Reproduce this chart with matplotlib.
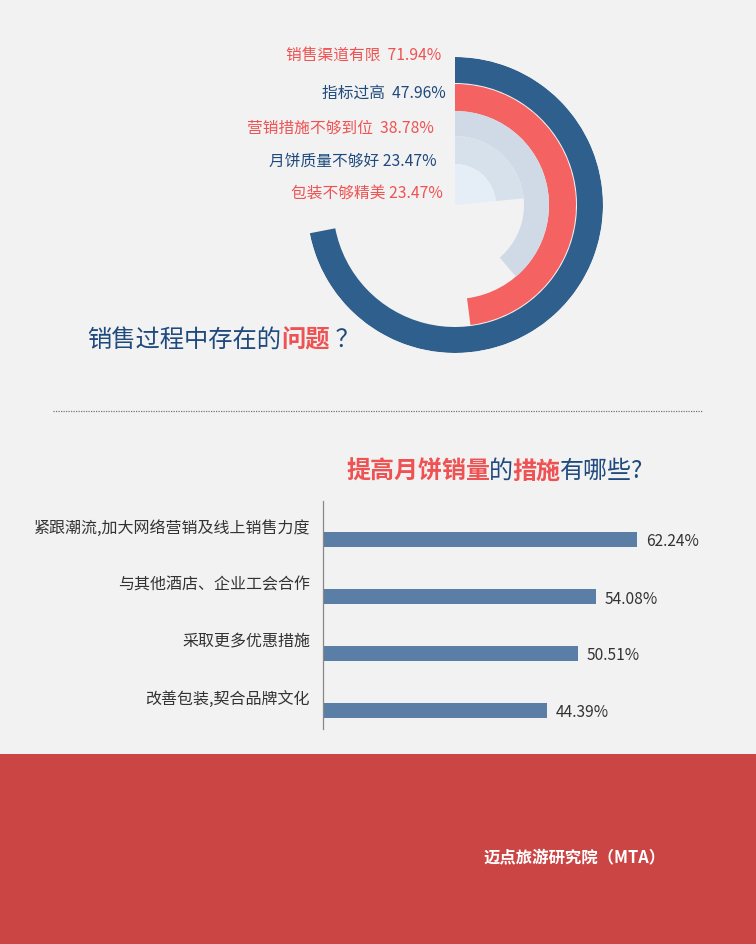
import matplotlib
matplotlib.use("Agg")
import matplotlib.pyplot as plt
import numpy as np
from matplotlib.patches import Rectangle

plt.rcParams['font.family'] = ['Noto Sans CJK SC', 'DejaVu Sans']

# ---------------- data ----------------
radial_labels = ['销售渠道有限', '指标过高', '营销措施不够到位', '月饼质量不够好', '包装不够精美']
radial_values = [71.94, 47.96, 38.78, 23.47, 23.47]
radial_label_text = ['销售渠道有限  71.94%', '指标过高  47.96%', '营销措施不够到位  38.78%',
                     '月饼质量不够好 23.47%', '包装不够精美 23.47%']

bar_labels = ['紧跟潮流,加大网络营销及线上销售力度', '与其他酒店、企业工会合作',
              '采取更多优惠措施', '改善包装,契合品牌文化']
bar_values = [62.24, 54.08, 50.51, 44.39]

# ---------------- styles ----------------
W, H = 756, 945
BG = '#f2f2f2'
DARK = '#2f5f8d'
RED = '#f46262'
TXT_BLUE = '#1f4a7e'
TXT_RED = '#ef5252'
ring_colors = [DARK, RED, '#cfdae6', '#d7e1eb', '#e5eef7']
ring_outer = [148, 121, 94, 69, 41]
ring_inner = [122, 94, 69, 41, 0]
label_colors = [TXT_RED, TXT_BLUE, TXT_RED, TXT_BLUE, TXT_RED]

fig = plt.figure(figsize=(W / 100, H / 100), dpi=100)
fig.patch.set_facecolor(BG)

# background / text layer in pixel coordinates
bg = fig.add_axes([0, 0, 1, 1])
bg.set_xlim(0, W)
bg.set_ylim(H, 0)
bg.axis('off')
bg.set_zorder(0)
bg.add_patch(Rectangle((0, 755), W, H - 755, color='#cc4545', lw=0))
bg.plot([53, 703], [412, 412], color='#777777', lw=0.9, ls=(0, (1, 1)))

# ---------------- radial chart ----------------
cx, cy, R = 455, 206, 148
pax = fig.add_axes([(cx - R) / W, (H - cy - R) / H, 2 * R / W, 2 * R / H], projection='polar')
pax.set_theta_zero_location('N')
pax.set_theta_direction(-1)
pax.set_ylim(0, R)
pax.axis('off')
pax.patch.set_alpha(0)
for v, ro, ri, c in zip(radial_values, ring_outer, ring_inner, ring_colors):
    theta = np.deg2rad(v / 100 * 360)
    pax.bar(theta / 2, ro - ri, width=theta, bottom=ri, color=c, edgecolor='none', align='center')

label_y = [55, 93, 128, 161, 194]
label_right = [441, 446, 434, 437, 443]
for txt, c, y, xr in zip(radial_label_text, label_colors, label_y, label_right):
    bg.text(xr, y, txt, color=c, fontsize=11.3, ha='right', va='center')

# title with mixed colours
t1 = bg.text(87, 340, '销售过程中存在的', color=TXT_BLUE, fontsize=17.5, ha='left', va='center')
t2 = bg.annotate('问题', xy=(1, 0), xycoords=t1, ha='left', va='bottom',
                 color=TXT_RED, fontsize=17.5, fontweight='bold')
t3 = bg.annotate(' ？', xy=(1, 0), xycoords=t2, ha='left', va='bottom',
                 color=TXT_BLUE, fontsize=17.5)

# ---------------- bar chart title ----------------
parts = [('提高月饼销量', TXT_RED, 'bold'), ('的', TXT_BLUE, 'normal'),
         ('措施', TXT_RED, 'bold'), ('有哪些?', TXT_BLUE, 'normal')]
prev = bg.text(346, 472, parts[0][0], color=parts[0][1], fontweight=parts[0][2],
               fontsize=17.3, ha='left', va='center')
for p, c, w in parts[1:]:
    prev = bg.annotate(p, xy=(1, 0), xycoords=prev, xytext=(-1, 0), textcoords='offset pixels',
                       ha='left', va='bottom', color=c, fontweight=w, fontsize=17.3)

# ---------------- bar chart ----------------
ax_left, ax_top, ax_bottom = 323, 502, 730
px_per_pct = (637 - 323) / 62.24
ax_w = 420
bax = fig.add_axes([ax_left / W, (H - ax_bottom) / H, ax_w / W, (ax_bottom - ax_top) / H])
bax.patch.set_alpha(0)
ypos = np.arange(len(bar_values))[::-1]
step = 57
bax.set_ylim(-(ax_bottom - 711) / step, (711 - ax_top) / step)
bax.set_xlim(0, ax_w / px_per_pct)
bax.barh(ypos, bar_values, height=15 / step, color='#5a7ea6')
for s in ['top', 'right', 'bottom']:
    bax.spines[s].set_visible(False)
bax.spines['left'].set_color('#888888')
bax.spines['left'].set_linewidth(0.9)
bax.set_xticks([])
bax.set_yticks([])
for y, lab, v in zip(ypos, bar_labels, bar_values):
    bax.annotate(lab, xy=(0, y), xytext=(-13, 12), textcoords='offset pixels',
                 ha='right', va='center', fontsize=11.5, color='#333333')
    bax.annotate(f'{v:.2f}%', xy=(v, y), xytext=(9, -2), textcoords='offset pixels',
                 ha='left', va='center', fontsize=11.2, color='#333333')

# ---------------- footer ----------------
bg.text(483, 858, '迈点旅游研究院（MTA）', color='white', fontsize=11.8,
        fontweight='bold', ha='left', va='center')

fig.savefig('out.png', dpi=100, facecolor=BG)
